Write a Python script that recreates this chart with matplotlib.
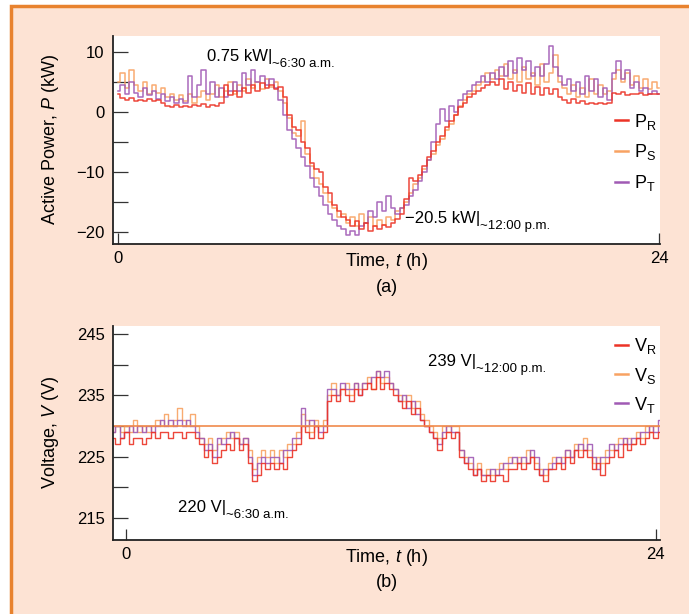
import matplotlib
matplotlib.use('Agg')
import matplotlib.pyplot as plt
from matplotlib.lines import Line2D
from matplotlib.patches import Rectangle
import numpy as np

plt.rcParams['font.family'] = ['Liberation Sans', 'DejaVu Sans']
plt.rcParams['mathtext.fontset'] = 'custom'
plt.rcParams['mathtext.rm'] = 'Liberation Sans'
plt.rcParams['mathtext.it'] = 'Liberation Sans:italic'

# ---- data ----
# active power, one sample every 0.2 h from 0 to 24 h (kW)
t_power = np.linspace(0, 24, 121)
p_r = [3.0, 2.4, 2.0, 2.3, 1.8, 2.1, 1.9, 2.2, 1.8, 2.0,
       1.6, 1.0, 0.8, 1.2, 0.9, 1.1, 0.8, 1.2, 1.0, 1.3,
       0.9, 1.2, 1.0, 1.5, 4.5, 2.8, 3.5, 2.6, 4.0, 3.2,
       4.5, 3.6, 4.8, 4.0, 4.6, 3.8, 4.2, 2.5, -0.5, -2.5,
       -3.0, -5.0, -6.0, -8.5, -9.5, -10.0, -12.5, -13.5, -15.5, -16.5,
       -17.5, -18.0, -19.0, -18.2, -19.5, -18.5, -19.8, -19.0, -19.5, -18.8,
       -19.2, -18.5, -17.8, -17.0, -14.5, -11.0, -11.5, -10.5, -9.0, -7.5,
       -6.5, -5.0, -4.0, -2.5, -1.5, -0.5, 0.8, 1.5, 2.5, 3.0,
       3.5, 4.0, 4.5, 5.0, 4.6, 5.5, 3.8, 5.0, 3.5, 4.5,
       3.2, 4.8, 3.0, 4.2, 2.8, 4.0, 3.0, 3.8, 2.5, 2.0,
       1.6, 2.2, 1.5, 1.8, 1.4, 1.6, 1.3, 1.5, 1.4, 1.6,
       3.2, 3.0, 3.3, 2.9, 3.1, 3.0, 3.2, 2.9, 3.1, 3.0,
       3.0]
p_s = [5.0, 6.5, 4.0, 7.0, 4.5, 3.5, 5.0, 3.0, 4.5, 3.2,
       4.0, 2.5, 3.0, 2.0, 2.8, 1.8, 3.0, 1.5, 2.5, 3.5,
       2.0, 3.0, 4.5, 2.5, 3.5, 5.0, 3.0, 4.5, 3.5, 5.5,
       4.0, 5.0, 3.8, 5.5, 4.2, 5.0, 3.5, 1.5, -1.0, -3.5,
       -4.0, -1.5, -7.0, -9.0, -11.0, -12.0, -13.5, -15.0, -16.0, -17.5,
       -17.0, -18.5, -17.5, -19.0, -17.0, -18.5, -17.5, -19.0, -18.0, -18.8,
       -17.5, -18.0, -16.5, -16.0, -15.0, -13.5, -12.0, -11.0, -9.5, -8.0,
       -7.0, -5.5, -4.5, -3.0, -2.0, -0.5, 1.0, 2.0, 3.0, 3.5,
       4.5, 5.0, 6.5, 5.5, 7.0, 6.0, 8.0, 5.5, 7.0, 5.0,
       7.5, 5.5, 6.5, 4.5, 8.0, 5.0, 6.5, 9.5, 5.0, 4.0,
       3.0, 4.5, 2.5, 4.0, 2.5, 5.5, 3.0, 4.5, 3.0, 3.5,
       5.5, 7.0, 5.0, 6.5, 4.5, 6.0, 4.0, 5.5, 3.8, 5.0,
       4.0]
p_t = [3.5, 4.5, 3.0, 5.0, 3.2, 2.5, 4.0, 2.8, 3.5, 2.2,
       3.0, 1.8, 2.5, 1.5, 2.2, 1.5, 6.0, 2.5, 4.5, 7.0,
       3.0, 5.0, 2.5, 4.0, 2.5, 3.5, 5.0, 3.5, 6.5, 4.5,
       7.0, 5.0, 6.0, 4.5, 5.5, 4.0, 2.0, -0.5, -3.0, -4.5,
       -6.0, -7.5, -9.0, -11.0, -12.5, -14.0, -15.5, -17.0, -18.0, -19.0,
       -19.5, -20.5, -19.8, -20.5, -19.0, -18.5, -16.5, -17.5, -15.0, -16.5,
       -14.0, -16.0, -17.0, -16.0, -15.5, -14.0, -13.0, -11.5, -10.0, -8.0,
       -5.0, -2.0, 0.5, -1.5, 1.0, 0.0, 2.0, 3.0, 3.5, 4.5,
       5.0, 6.0, 5.0, 6.5, 5.5, 7.5, 6.0, 8.5, 6.5, 9.0,
       7.0, 8.5, 6.0, 7.5, 6.0, 8.0, 11.0, 7.5, 6.0, 4.5,
       5.5, 3.5, 5.0, 3.0, 6.0, 3.5, 5.5, 2.5, 4.0, 2.0,
       6.5, 8.5, 5.5, 7.0, 4.0, 5.0, 3.5, 4.0, 3.0, 3.5,
       3.0]

# voltage, one sample every 0.2 h (V)
t_volt = np.linspace(-0.6, 24.2, 125)
v_r = [228, 227, 228, 229, 227, 228, 228, 227,
       228, 229, 228, 229, 229, 228, 229, 229, 228, 229, 229, 228,
       227, 225, 226, 224, 225, 226,
       227, 226, 228, 226, 227,
       224, 221, 222, 224,
       223, 224, 223, 224, 223, 225,
       226, 227, 230,
       229, 228, 230, 228, 229,
       234, 235, 234, 236, 235, 234, 236, 235, 236,
       237, 236, 238, 236, 237, 236,
       235, 234, 233, 234, 232, 233,
       231, 230, 229, 228, 226,
       228, 229, 228, 229,
       225, 224, 223, 222, 223, 221,
       222, 221, 222, 222, 221, 223,
       223, 224, 223, 224, 225, 223,
       222, 221, 223,
       223, 224, 223, 225, 224,
       226, 225, 226, 225,
       223, 224, 222, 224,
       225, 226, 225, 227, 226, 227,
       228, 227, 228, 229, 228, 229]
v_s = [229, 230, 229, 230, 229, 231, 229, 230,
       229, 230, 231, 230, 232, 230, 231, 233, 231, 230, 232, 230,
       228, 227, 228, 226, 227, 228,
       229, 228, 229, 227, 228,
       226, 223, 225, 226,
       225, 226, 224, 226, 225, 227,
       227, 229, 232,
       231, 229, 231, 230, 231,
       235, 237, 235, 236, 237, 235, 237, 236, 237,
       238, 236, 239, 237, 238, 237,
       236, 235, 234, 235, 233, 234,
       232, 231, 230, 229, 228,
       230, 229, 230, 230,
       226, 225, 224, 223, 224, 222,
       223, 222, 223, 224, 223, 225,
       224, 225, 224, 226, 225, 224,
       223, 222, 224,
       225, 224, 225, 226, 225,
       227, 226, 228, 226,
       224, 225, 224, 226,
       226, 227, 228, 227, 228, 227,
       229, 228, 230, 229, 230, 230]
v_t = [229, 230, 228, 229, 230, 229, 230, 229,
       230, 229, 230, 231, 230, 231, 230, 231, 230, 231, 230, 229,
       228, 226, 227, 225, 228, 227,
       228, 229, 228, 227, 228,
       225, 222, 224, 225,
       224, 225, 225, 224, 226, 226,
       228, 228, 233,
       230, 231, 230, 229, 230,
       236, 236, 235, 237, 236, 236, 237, 235, 237,
       237, 238, 239, 238, 239, 237,
       236, 234, 235, 233, 234, 232,
       231, 230, 229, 228, 227,
       229, 230, 229, 229,
       226, 224, 225, 222, 223, 222,
       222, 223, 222, 223, 224, 224,
       225, 224, 225, 224, 226, 225,
       222, 223, 223,
       224, 225, 224, 226, 225,
       226, 227, 226, 227,
       225, 223, 225, 225,
       227, 226, 227, 228, 227, 228,
       228, 229, 229, 230, 229, 231]
v_nominal = 230

phase_keys = ['R', 'S', 'T']
phase_colors = {'R': '#ec3326', 'S': '#f8a262', 'T': '#a05ab4'}

PEACH = '#fde3d4'
BORDER = '#e8822e'

fig = plt.figure(figsize=(6.89, 6.14), dpi=100, facecolor='white')
fig.patches.append(Rectangle((11 / 689, -0.05), 1.1, 1 - 6 / 614 + 0.05,
                             transform=fig.transFigure, facecolor=PEACH,
                             edgecolor=BORDER, lw=2.5, zorder=-5))

ax1 = fig.add_axes([113 / 689, 1 - 244 / 614, 547 / 689, 208 / 614])
ax2 = fig.add_axes([113 / 689, 1 - 540 / 614, 547 / 689, 214 / 614])


def style(ax):
    for s in ['top', 'right']:
        ax.spines[s].set_visible(False)
    for s in ['left', 'bottom']:
        ax.spines[s].set_linewidth(1.3)
        ax.spines[s].set_color('#222222')
    ax.tick_params(axis='y', which='both', direction='in', length=11,
                   width=0.9, color='#333333', labelsize=12, pad=6)
    ax.tick_params(axis='x', direction='in', length=8, width=0.9,
                   color='#333333', labelsize=12, pad=5)
    ax.set_xticks([0, 24])


def note(ax, x, y, main, sub):
    t = ax.text(x, y, main, fontsize=12, va='center', ha='left')
    ax.annotate(sub, xy=(1, 0.0), xycoords=t, fontsize=9.5,
                va='center', ha='left')


# ---- (a) active power ----
series_p = {'R': p_r, 'S': p_s, 'T': p_t}
for k in ['S', 'T', 'R']:
    ax1.plot(t_power, series_p[k], color=phase_colors[k], lw=1.1,
             drawstyle='steps-mid', alpha=0.9)
ax1.set_xlim(-0.22, 24.04)
ax1.set_ylim(-22, 12.7)
style(ax1)
ax1.set_yticks([-20, -10, 0, 10])
ax1.set_yticks([-15, -5, 5], minor=True)
ax1.set_ylabel(r'Active Power, $\mathit{P}$ (kW)', fontsize=13)
ax1.yaxis.set_label_coords(-0.095, 0.5)
ax1.set_xlabel(r'Time, $\mathit{t}$ (h)', fontsize=13)
ax1.xaxis.set_label_coords(0.5, -0.035)
ax1.text(0.5, -0.21, '(a)', transform=ax1.transAxes, fontsize=13,
         ha='center', va='center')
note(ax1, 3.95, 9.2, '0.75 kW|', '~6:30 a.m.')
note(ax1, 12.73, -17.7, '\u221220.5 kW|', '~12:00 p.m.')
h1 = [Line2D([], [], color=phase_colors[k], lw=1.8) for k in phase_keys]
ax1.legend(h1, [r'P$_\mathregular{%s}$' % k for k in phase_keys],
           loc='upper left', bbox_to_anchor=(0.918, 0.637), frameon=False,
           handlelength=0.7, handletextpad=0.35, labelspacing=0.6,
           borderpad=0, borderaxespad=0, fontsize=13)

# ---- (b) voltage ----
series_v = {'R': v_r, 'S': v_s, 'T': v_t}
for k in ['S', 'T', 'R']:
    ax2.plot(t_volt, series_v[k], color=phase_colors[k], lw=1.0,
             drawstyle='steps-mid', alpha=0.9)
ax2.axhline(v_nominal, color='#f08a4c', lw=1.2)
ax2.set_xlim(-0.61, 24.2)
ax2.set_ylim(211.4, 246.3)
style(ax2)
ax2.set_yticks([215, 225, 235, 245])
ax2.set_yticks([220, 230, 240], minor=True)
ax2.set_ylabel(r'Voltage, $\mathit{V}$ (V)', fontsize=13)
ax2.yaxis.set_label_coords(-0.095, 0.5)
ax2.set_xlabel(r'Time, $\mathit{t}$ (h)', fontsize=13)
ax2.xaxis.set_label_coords(0.5, -0.035)
ax2.text(0.5, -0.2, '(b)', transform=ax2.transAxes, fontsize=13,
         ha='center', va='center')
note(ax2, 13.68, 240.5, '239 V|', '~12:00 p.m.')
note(ax2, 2.34, 216.7, '220 V|', '~6:30 a.m.')
h2 = [Line2D([], [], color=phase_colors[k], lw=1.8) for k in phase_keys]
ax2.legend(h2, [r'V$_\mathregular{%s}$' % k for k in phase_keys],
           loc='upper left', bbox_to_anchor=(0.918, 0.951), frameon=False,
           handlelength=0.7, handletextpad=0.35, labelspacing=0.5,
           borderpad=0, borderaxespad=0, fontsize=13)

fig.savefig('out.png', dpi=100, facecolor=fig.get_facecolor())
